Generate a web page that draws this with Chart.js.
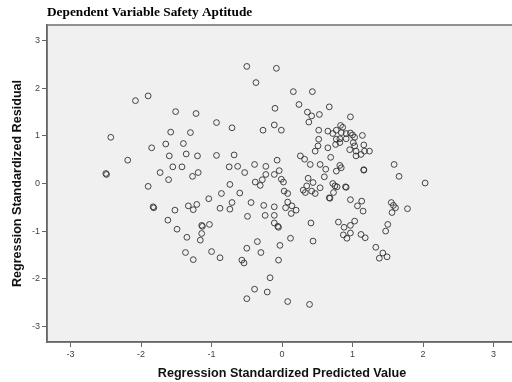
<!DOCTYPE html>
<html>
<head>
<meta charset="utf-8">
<script src="https://cdn.jsdelivr.net/npm/chart.js@4.4.1/dist/chart.umd.min.js"></script>
<style>
html,body{margin:0;padding:0;background:#fff;}
#wrap{width:512px;height:382px;overflow:hidden;position:relative;}
canvas{display:block;}
</style>
</head>
<body>
<div id="wrap"><canvas id="c" width="521" height="382" style="width:521px;height:382px"></canvas></div>
<script>
const chartTitle = "Dependent Variable Safety Aptitude";
const xAxisTitle = "Regression Standardized Predicted Value";
const yAxisTitle = "Regression Standardized Residual";
const tickValues = [-3, -2, -1, 0, 1, 2, 3];

const predicted = [
-2.08,-1.90,-1.51,-1.22,-2.43,-1.58,-1.30,-1.85,-1.65,-1.40,
-1.60,-1.36,-1.20,-2.19,-1.55,-1.42,-1.73,-2.50,-2.49,-1.27,
-1.19,-1.61,-1.90,-1.83,-1.82,-1.52,-1.33,-1.26,-1.21,-1.62,
-1.49,-1.35,-1.14,-1.13,-1.16,-1.37,-1.26,-1.14,
-0.50,-0.08,-0.37,0.16,0.43,0.24,0.67,-0.10,0.36,0.42,
0.53,0.38,-0.93,-0.71,-0.11,-0.01,-0.27,0.52,0.65,0.72,
0.77,0.83,0.86,0.84,0.91,0.97,1.00,1.14,0.97,0.52,
0.77,0.82,0.91,1.03,0.51,0.65,0.76,0.82,1.01,1.03,
1.16,0.47,0.96,1.05,1.17,1.24,0.26,1.12,-0.93,-0.68,
0.32,0.69,1.05,-0.75,-0.63,-0.39,-0.23,-0.07,0.40,0.54,
0.62,0.82,0.84,0.77,1.16,1.16,1.59,1.66,2.03,-0.53,
-0.23,-0.04,-0.11,0.60,-0.74,-0.38,-0.31,-0.28,-0.01,0.02,
0.37,0.44,0.35,0.72,0.75,0.91,0.90,0.54,0.30,0.42,
0.47,0.73,0.68,0.67,0.97,1.13,0.78,-0.86,-0.60,-1.04,
0.03,0.08,0.33,-0.88,-0.74,-0.71,-0.44,-0.26,-0.11,0.08,
0.05,0.14,0.20,0.13,-0.49,-0.24,-0.11,-1.03,-0.11,-0.06,
-0.05,0.41,0.80,0.88,0.87,0.92,-0.35,0.12,0.44,-0.50,
-0.03,-0.30,-1.00,-0.88,-0.57,-0.54,-0.05,-0.17,-0.39,-0.21,
-0.50,0.08,0.39,1.07,1.15,1.55,1.58,1.61,1.56,1.78,
0.97,1.03,0.97,1.12,1.18,1.50,1.47,1.33,1.43,1.49,1.38
];
const residual = [
1.74,1.84,1.51,1.47,0.97,1.08,1.07,0.75,0.83,0.84,
0.58,0.62,0.58,0.49,0.35,0.35,0.23,0.21,0.19,0.15,
0.23,0.08,-0.06,-0.49,-0.51,-0.56,-0.47,-0.55,-0.44,-0.77,
-0.96,-1.13,-0.88,-0.90,-1.19,-1.45,-1.60,-1.05,
2.46,2.42,2.12,1.93,1.93,1.66,1.61,1.58,1.50,1.42,
1.45,1.29,1.28,1.17,1.23,1.12,1.12,1.12,1.10,1.05,
1.12,1.22,1.18,1.07,1.05,1.06,1.02,1.01,1.40,0.93,
0.93,0.94,0.94,0.97,0.79,0.75,0.82,0.86,0.86,0.79,
0.81,0.68,0.71,0.68,0.68,0.68,0.58,0.61,0.59,0.60,
0.51,0.55,0.58,0.35,0.36,0.40,0.36,0.49,0.40,0.40,
0.30,0.38,0.33,0.26,0.29,0.28,0.40,0.15,0.01,0.23,
0.19,0.27,0.19,0.14,-0.02,0.03,-0.04,0.08,0.09,0.03,
0.11,0.02,-0.05,0.00,-0.05,-0.08,-0.07,-0.09,-0.14,-0.16,
-0.21,-0.19,-0.31,-0.30,-0.34,-0.37,-0.07,-0.21,-0.20,-0.32,
-0.16,-0.21,-0.19,-0.52,-0.54,-0.40,-0.40,-0.46,-0.49,-0.39,
-0.51,-0.47,-0.56,-0.63,-0.69,-0.67,-0.67,-0.86,-0.83,-0.90,
-0.92,-0.83,-0.81,-0.92,-1.08,-1.15,-1.22,-1.15,-1.21,-1.36,
-1.30,-1.45,-1.43,-1.56,-1.61,-1.67,-1.61,-1.98,-2.22,-2.28,
-2.42,-2.48,-2.54,-0.47,-0.58,-0.40,-0.46,-0.51,-0.61,-0.53,
-0.88,-0.79,-1.04,-1.07,-1.14,-0.86,-1.00,-1.34,-1.46,-1.54,-1.57
];

const points = predicted.map((x, i) => ({x: x, y: residual[i]}));

const framePlugin = {
  id: 'frame',
  beforeDraw(chart) {
    const {ctx, chartArea: a} = chart;
    ctx.save();
    ctx.fillStyle = '#f0f0f0';
    ctx.fillRect(a.left, a.top, a.right - a.left, a.bottom - a.top);
    ctx.restore();
  },
  afterDraw(chart) {
    const {ctx, chartArea: a} = chart;
    ctx.save();
    ctx.strokeStyle = '#6e6e6e';
    ctx.lineWidth = 1.5;
    ctx.strokeRect(a.left, a.top, a.right - a.left, a.bottom - a.top);
    ctx.fillStyle = '#000';
    ctx.font = 'bold 13.3px "Liberation Serif", "Times New Roman", serif';
    ctx.textAlign = 'left';
    ctx.textBaseline = 'middle';
    ctx.fillText(chartTitle, 47, 13);
    ctx.restore();
  }
};

new Chart(document.getElementById('c'), {
  type: 'scatter',
  data: {
    datasets: [{
      data: points,
      pointStyle: 'circle',
      pointRadius: 2.9,
      pointBorderWidth: 1,
      pointBackgroundColor: 'rgba(0,0,0,0)',
      pointBorderColor: 'rgba(40,40,40,0.85)',
      pointHoverRadius: 2.9
    }]
  },
  options: {
    responsive: false,
    animation: false,
    events: [],
    layout: {padding: {top: 25, right: 1, left: 0, bottom: 0}},
    plugins: {legend: {display: false}, tooltip: {enabled: false}, title: {display: false}},
    scales: {
      x: {
        type: 'linear',
        min: -3.335, max: 3.335,
        afterBuildTicks(scale) { scale.ticks = tickValues.map(v => ({value: v})); },
        afterFit(scale) { scale.height = 40; },
        grid: {display: true, drawOnChartArea: false, drawTicks: true, tickLength: 5, color: '#666', lineWidth: 1},
        border: {display: true, color: '#555', width: 1.5},
        ticks: {color: '#444', font: {family: 'Liberation Sans, Arial, sans-serif', size: 9}, padding: 2, autoSkip: false, maxRotation: 0},
        title: {display: true, text: xAxisTitle, color: '#111', font: {family: 'Liberation Sans, Arial, sans-serif', size: 12.6, weight: 'bold'}, padding: {top: 0, bottom: 1}}
      },
      y: {
        type: 'linear',
        min: -3.33, max: 3.33,
        afterBuildTicks(scale) { scale.ticks = tickValues.map(v => ({value: v})); },
        afterFit(scale) { scale.width = 47; },
        grid: {display: true, drawOnChartArea: false, drawTicks: true, tickLength: 5, color: '#666', lineWidth: 1},
        border: {display: true, color: '#555', width: 1.5},
        ticks: {color: '#444', font: {family: 'Liberation Sans, Arial, sans-serif', size: 9}, padding: 2, autoSkip: false},
        title: {display: true, text: yAxisTitle, color: '#111', font: {family: 'Liberation Sans, Arial, sans-serif', size: 12.6, weight: 'bold'}, padding: {top: 10, bottom: 0}}
      }
    }
  },
  plugins: [framePlugin]
});
</script>
</body>
</html>
